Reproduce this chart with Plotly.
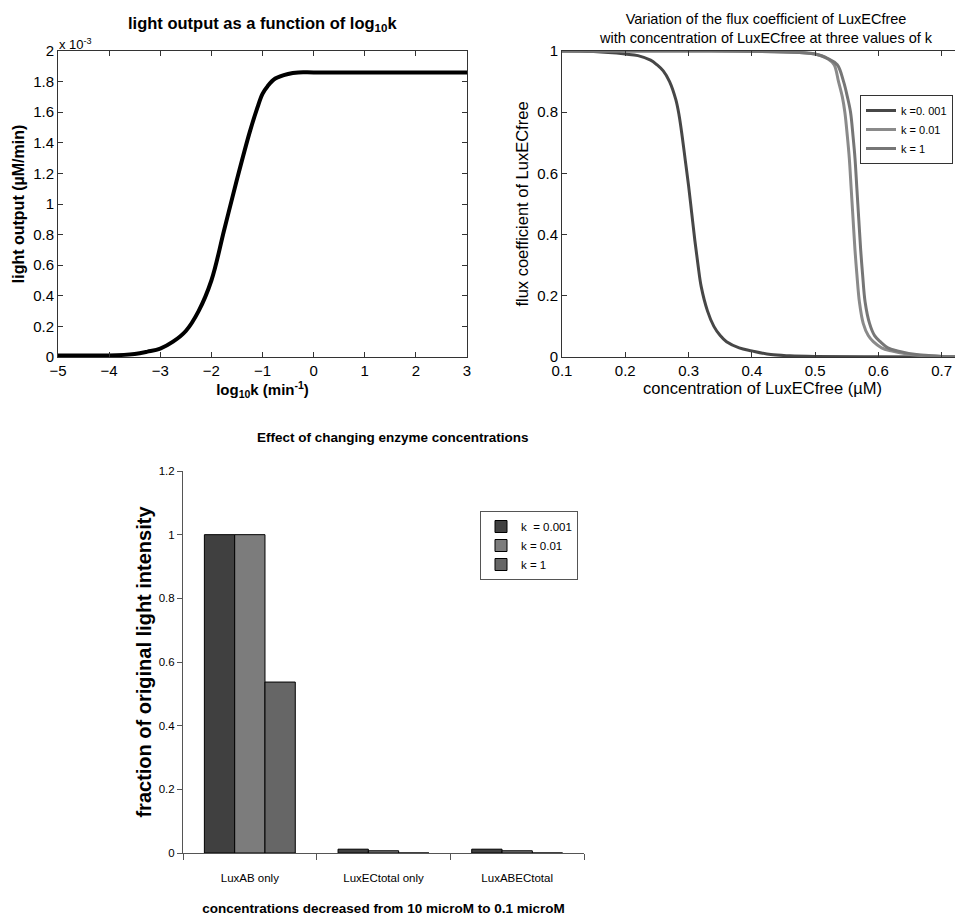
import plotly.graph_objects as go

W, H = 963, 916
OFF = 8  # page body margin in the screenshot

# ---- top-left: light output vs log10 k (values in units of 1e-3 uM/min)
logk = [-5, -4.5, -4, -3.5, -3.25, -3, -2.75, -2.5, -2.25, -2, -1.75, -1.5, -1.25, -1.1, -1, -0.9, -0.75, -0.5, -0.3, 0, 1, 2, 3]
light = [0.01, 0.01, 0.01, 0.02, 0.035, 0.055, 0.1, 0.17, 0.3, 0.5, 0.83, 1.16, 1.47, 1.63, 1.72, 1.77, 1.82, 1.85, 1.86, 1.86, 1.86, 1.86, 1.86]

# ---- top-right: flux coefficient curves
x_k0001 = [0.10, 0.15, 0.20, 0.22, 0.24, 0.25, 0.26, 0.27, 0.28, 0.285, 0.29, 0.295, 0.30, 0.305, 0.31, 0.315, 0.32, 0.33, 0.34, 0.35, 0.36, 0.38, 0.40, 0.43, 0.46, 0.50, 0.60, 0.73]
y_k0001 = [1.0, 0.998, 0.99, 0.985, 0.97, 0.955, 0.935, 0.9, 0.84, 0.79, 0.72, 0.64, 0.56, 0.47, 0.38, 0.3, 0.23, 0.15, 0.1, 0.07, 0.05, 0.03, 0.02, 0.008, 0.004, 0.002, 0.001, 0.0]
x_k001 = [0.10, 0.30, 0.45, 0.50, 0.52, 0.53, 0.537, 0.543, 0.547, 0.551, 0.554, 0.557, 0.560, 0.563, 0.566, 0.570, 0.576, 0.584, 0.592, 0.605, 0.62, 0.65, 0.70, 0.73]
y_k001 = [1.0, 1.0, 0.997, 0.99, 0.975, 0.955, 0.9, 0.85, 0.8, 0.72, 0.65, 0.55, 0.45, 0.35, 0.27, 0.18, 0.11, 0.07, 0.05, 0.03, 0.02, 0.008, 0.002, 0.0]
x_k1 = [0.10, 0.30, 0.45, 0.50, 0.52, 0.535, 0.545, 0.551, 0.556, 0.560, 0.563, 0.566, 0.569, 0.572, 0.575, 0.579, 0.586, 0.594, 0.603, 0.615, 0.63, 0.66, 0.70, 0.73]
y_k1 = [1.0, 1.0, 0.997, 0.99, 0.975, 0.955, 0.9, 0.85, 0.8, 0.72, 0.65, 0.55, 0.45, 0.35, 0.27, 0.18, 0.11, 0.07, 0.05, 0.03, 0.02, 0.008, 0.002, 0.0]
line_names = ["k =0. 001", "k = 0.01", "k = 1"]

# ---- bottom: bar chart
categories = ["LuxAB only", "LuxECtotal only", "LuxABECtotal"]
bar_k0001 = [1.0, 0.012, 0.012]
bar_k001 = [1.0, 0.007, 0.007]
bar_k1 = [0.537, 0.0, 0.0]
bar_names = ["k  = 0.001", "k = 0.01", "k = 1"]

MAT = "Liberation Sans, Arial, sans-serif"
XL = "Liberation Sans, Arial, sans-serif"

def px(x):
    return (x - OFF) / W

def py(y):
    return 1 - (y - OFF) / H

fig = go.Figure()

fig.add_trace(go.Scatter(x=logk, y=light, mode="lines", line=dict(color="black", width=4, shape="spline"),
                         xaxis="x", yaxis="y", showlegend=False))

fig.add_trace(go.Scatter(x=x_k0001, y=y_k0001, mode="lines", name=line_names[0],
                         line=dict(color="#474747", width=3, shape="spline"), xaxis="x2", yaxis="y2", legend="legend"))
fig.add_trace(go.Scatter(x=x_k001, y=y_k001, mode="lines", name=line_names[1],
                         line=dict(color="#8a8a8a", width=3, shape="spline"), xaxis="x2", yaxis="y2", legend="legend"))
fig.add_trace(go.Scatter(x=x_k1, y=y_k1, mode="lines", name=line_names[2],
                         line=dict(color="#767676", width=3, shape="spline"), xaxis="x2", yaxis="y2", legend="legend"))

for vals, name, col in zip([bar_k0001, bar_k001, bar_k1], bar_names, ["#404040", "#7c7c7c", "#666666"]):
    fig.add_trace(go.Bar(x=categories, y=vals, name=name, marker=dict(color=col, line=dict(color="black", width=1)),
                         xaxis="x3", yaxis="y3", legend="legend2"))

common = dict(showgrid=False, zeroline=False, automargin=False)

fig.update_layout(
    width=W, height=H,
    margin=dict(l=0, r=0, t=0, b=0),
    paper_bgcolor="white", plot_bgcolor="white",
    font=dict(family=MAT, color="black", size=13),
    barmode="group", bargap=0.32, bargroupgap=0,
    xaxis=dict(domain=[px(58), px(467)], range=[-5, 3], dtick=1, anchor="y",
               showline=True, linecolor="#333", mirror="ticks", ticks="inside", ticklen=5, tickcolor="#333",
               tickfont=dict(size=15),
               title=dict(text="<b>log<sub>10</sub>k (min<sup>-1</sup>)</b>", font=dict(size=15), standoff=2), **common),
    yaxis=dict(domain=[py(357), py(51)], range=[0, 2], dtick=0.2, anchor="x",
               showline=True, linecolor="#333", mirror="ticks", ticks="inside", ticklen=5, tickcolor="#333",
               tickfont=dict(size=15),
               title=dict(text="<b>light output (µM/min)</b>", font=dict(size=16), standoff=4), **common),
    xaxis2=dict(domain=[px(562), px(963)], range=[0.1, 0.7337], dtick=0.1, anchor="y2",
                showline=True, linecolor="#333", mirror="ticks", ticks="inside", ticklen=5, tickcolor="#333",
                tickfont=dict(size=15),
                title=dict(text="concentration of LuxECfree (µM)", font=dict(size=16.5), standoff=2), **common),
    yaxis2=dict(domain=[py(357), py(51)], range=[0, 1], dtick=0.2, anchor="x2",
                showline=True, linecolor="#333", mirror=False, ticks="inside", ticklen=5, tickcolor="#333",
                tickfont=dict(size=15),
                title=dict(text="flux coefficient of LuxECfree", font=dict(size=16.5), standoff=4), **common),
    xaxis3=dict(domain=[px(183), px(584)], range=[-0.5, 2.5], anchor="y3", type="category",
                showline=True, linecolor="#555", ticks="outside", ticklen=6, tickcolor="#555", tickson="boundaries",
                tickfont=dict(family=XL, size=11.5), ticklabelstandoff=14,
                title=dict(text="<b>concentrations decreased from 10 microM to 0.1 microM</b>", font=dict(family=XL, size=13.5), standoff=20), **common),
    yaxis3=dict(domain=[py(853), py(471)], range=[0, 1.2], dtick=0.2, anchor="x3",
                showline=True, linecolor="#555", ticks="outside", ticklen=5, tickcolor="#555",
                tickfont=dict(family=XL, size=11.5),
                title=dict(text="<b>fraction of original light intensity</b>", font=dict(family=XL, size=20), standoff=1), **common),
    legend=dict(x=px(860), y=py(95), xanchor="left", yanchor="top", bgcolor="white",
                bordercolor="#333", borderwidth=1, font=dict(size=11, family=MAT), tracegroupgap=0, itemwidth=30),
    legend2=dict(x=px(480), y=py(511), xanchor="left", yanchor="top", bgcolor="white",
                 bordercolor="#555", borderwidth=1, font=dict(size=11.5, family=XL), tracegroupgap=0, itemwidth=30),
    annotations=[
        dict(text="<b>light output as a function of log<sub>10</sub>k</b>", x=px(262), y=py(24), xref="paper", yref="paper",
             showarrow=False, font=dict(size=16.5, family=MAT), xanchor="center", yanchor="middle"),
        dict(text="x 10<sup>-3</sup>", x=px(57), y=py(44), xref="paper", yref="paper",
             showarrow=False, font=dict(size=13, family=MAT), xanchor="left", yanchor="middle"),
        dict(text="Variation of the flux coefficient of LuxECfree<br>with concentration of LuxECfree at three values of k",
             x=px(766), y=py(28), xref="paper", yref="paper", showarrow=False,
             font=dict(size=14.5, family=MAT), xanchor="center", yanchor="middle", align="center"),
        dict(text="<b>Effect of changing enzyme concentrations</b>", x=px(393), y=py(437), xref="paper", yref="paper",
             showarrow=False, font=dict(size=13.5, family=XL), xanchor="center", yanchor="middle"),
    ],
)

fig.write_html("out.html")
